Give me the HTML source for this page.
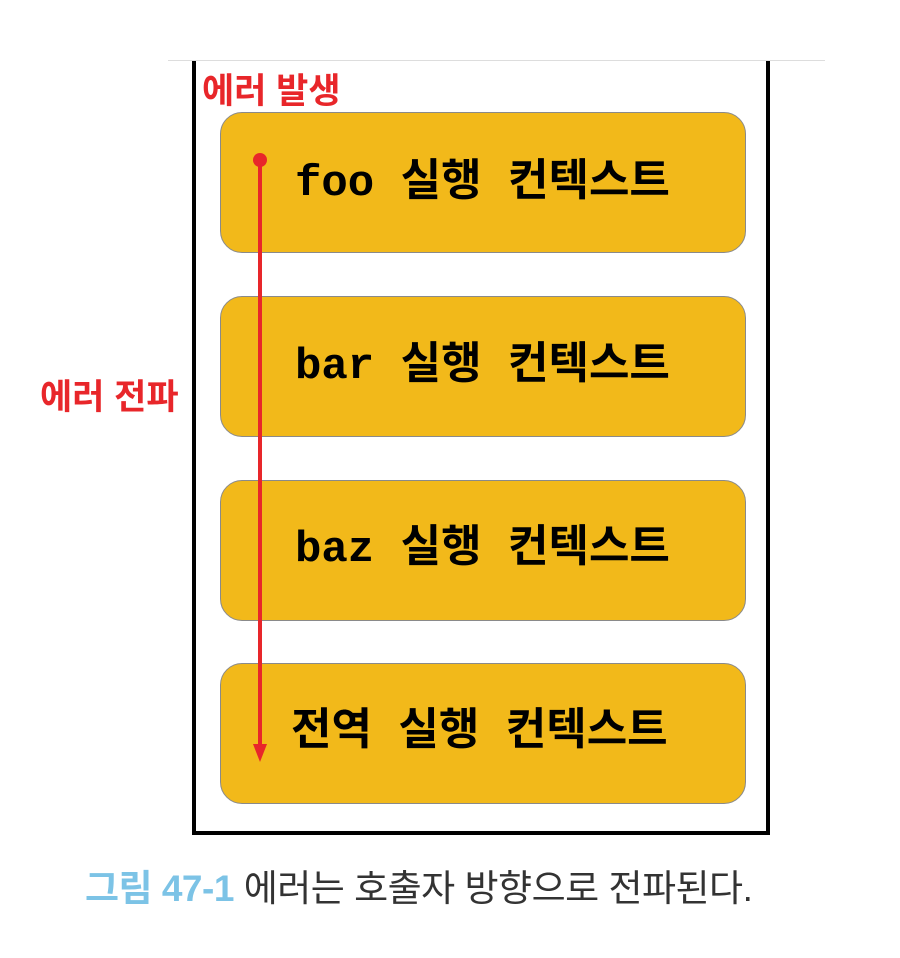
<!DOCTYPE html>
<html><head><meta charset="utf-8"><style>
body{margin:0;width:900px;height:958px;background:#fff;position:relative;overflow:hidden;font-family:"Liberation Sans","Noto Sans CJK KR",sans-serif}
.box{position:absolute;left:220px;width:526px;height:141px;background:#F2B91A;border:1px solid #8a8a8a;border-radius:22px;box-sizing:border-box}
.t{position:absolute;left:295px;font:bold 44px "Liberation Mono","Noto Sans CJK KR",monospace;color:#000;white-space:pre;line-height:1}
.red{position:absolute;color:#e8262a;font-weight:bold;font-size:35px;line-height:1;white-space:nowrap}
</style></head><body>
<div style="position:absolute;left:168px;top:60px;width:657px;height:1px;background:#ddd"></div>
<div style="position:absolute;left:192px;top:61px;width:578px;height:774px;border:4px solid #000;border-top:none;box-sizing:border-box"></div>
<div class="box" style="top:112px"></div>
<div class="box" style="top:296px"></div>
<div class="box" style="top:480px"></div>
<div class="box" style="top:663px"></div>
<div class="t" style="top:162px">foo 실행 컨텍스트</div>
<div class="t" style="top:345px">bar 실행 컨텍스트</div>
<div class="t" style="top:528px">baz 실행 컨텍스트</div>
<div class="t" style="top:711px;left:291px">전역 실행 컨텍스트</div>
<div class="red" style="left:202px;top:74px">에러 발생</div>
<div class="red" style="left:40px;top:380px">에러 전파</div>
<svg style="position:absolute;left:0;top:0" width="900" height="958">
<line x1="260" y1="160" x2="260" y2="748" stroke="#e8262a" stroke-width="4"/>
<circle cx="260" cy="160" r="7" fill="#e8262a"/>
<polygon points="253,744 267,744 260,762" fill="#e8262a"/>
</svg>
<div style="position:absolute;left:85px;top:870px;font-size:37px;line-height:1;white-space:nowrap;color:#333;letter-spacing:-0.5px"><span style="color:#7cc3e6;font-weight:bold">그림 47-1</span> 에러는 호출자 방향으로 전파된다.</div>
</body></html>
